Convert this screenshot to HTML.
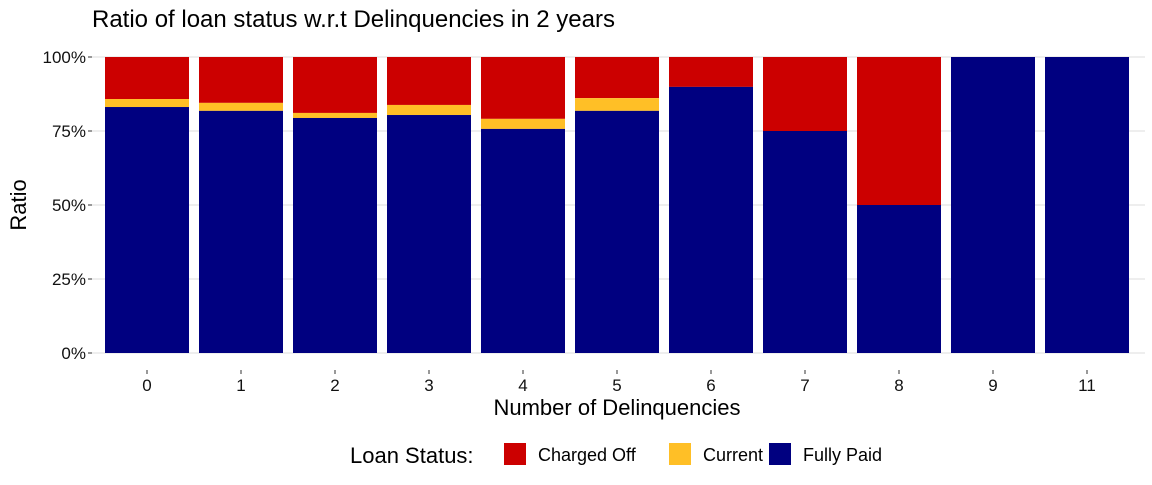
<!DOCTYPE html>
<html><head><meta charset="utf-8"><style>
body{margin:0;background:#fff;font-family:"Liberation Sans",sans-serif}
</style></head><body>
<svg width="1152" height="480" xmlns="http://www.w3.org/2000/svg" font-family="Liberation Sans, sans-serif">
<text x="92" y="27" font-size="24" fill="#000">Ratio of loan status w.r.t Delinquencies in 2 years</text>
<g id="grid"></g>
<g id="bars"></g>
<g id="axes"></g>
<text transform="translate(26,205) rotate(-90)" text-anchor="middle" font-size="22">Ratio</text>
<text x="617" y="415" text-anchor="middle" font-size="22">Number of Delinquencies</text>
<g>
<text x="350" y="463" font-size="22">Loan Status:</text>
<rect x="504" y="443" width="22" height="22" fill="#cc0000"/>
<text x="538" y="461" font-size="18">Charged Off</text>
<rect x="669" y="443" width="22" height="22" fill="#ffbf26"/>
<text x="703" y="461" font-size="18">Current</text>
<rect x="769" y="443" width="22" height="22" fill="#000080"/>
<text x="803" y="461" font-size="18">Fully Paid</text>
</g>
</svg>
<script>
const categories=["0","1","2","3","4","5","6","7","8","9","11"];
const fullyPaid=[0.831,0.818,0.794,0.804,0.757,0.818,0.899,0.75,0.5,1,1];
const current=[0.027,0.027,0.017,0.034,0.034,0.043,0,0,0,0,0];
const yTicks=[0,0.25,0.5,0.75,1];
const yTickLabels=["0%","25%","50%","75%","100%"];
const NS="http://www.w3.org/2000/svg";
const y0=353,y1=57,xL=92,xR=1145,pitch=94,x0=147,bw=84;
const y=v=>y0-(y0-y1)*v;
const x=i=>x0+pitch*i;
function mk(t,a,p){const e=document.createElementNS(NS,t);for(const k in a)e.setAttribute(k,a[k]);p.appendChild(e);return e;}
const grid=document.getElementById('grid'),bars=document.getElementById('bars'),axes=document.getElementById('axes');
yTicks.forEach((v,i)=>{
 const l=mk('line',{x1:xL,x2:xR,y1:y(v),y2:y(v),stroke:'#dedede','stroke-width':1},grid);
 
 
 const tk=mk('line',{x1:88,x2:92,y1:y(v),y2:y(v),stroke:'#333'},axes);
 
 
 const t=mk('text',{x:86,y:y(v)+6,'text-anchor':'end','font-size':17,fill:'#111'},axes);
 t.textContent=yTickLabels[i];
 
 
});
categories.forEach((c,i)=>{
 const cx=x(i),lx=cx-bw/2;
 const fp=fullyPaid[i],cu=current[i];
 const r1=mk('rect',{x:lx,width:bw,y:y(1),height:y(fp+cu)-y(1),fill:'#cc0000'},bars);
 
 
 const r2=mk('rect',{x:lx,width:bw,y:y(fp+cu),height:y(fp)-y(fp+cu),fill:'#ffbf26'},bars);
 
 
 const r3=mk('rect',{x:lx,width:bw,y:y(fp),height:y0-y(fp),fill:'#000080'},bars);
 
 
 const tk=mk('line',{x1:cx,x2:cx,y1:370,y2:374,stroke:'#333'},axes);
 
 
 const t=mk('text',{x:cx,y:391,'text-anchor':'middle','font-size':17,fill:'#111'},axes);
 t.textContent=c;
 
 
});
</script>
</body></html>
